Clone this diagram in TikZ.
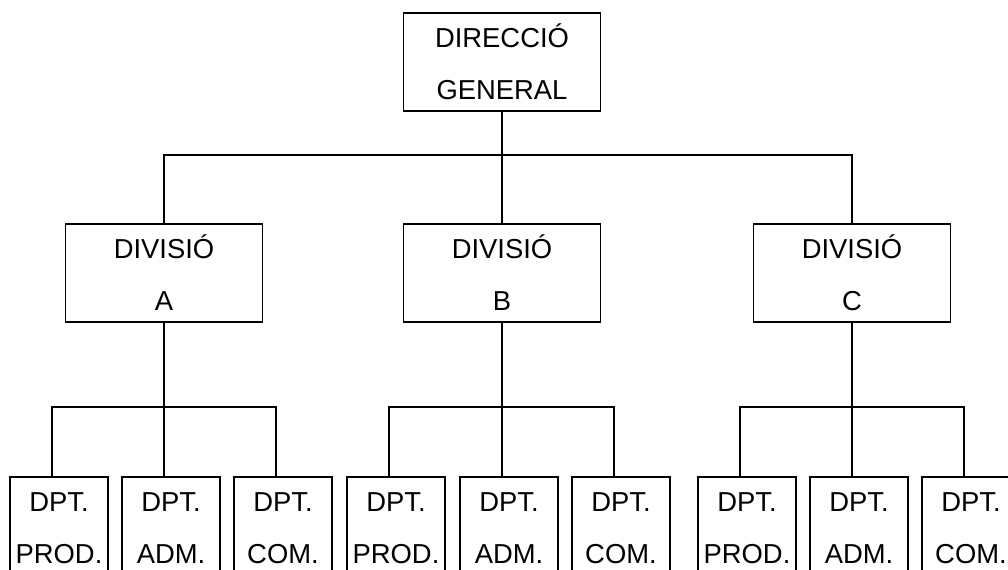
\documentclass[tikz,border=0pt]{standalone}
\usepackage{fontspec}
\setmainfont{Liberation Sans}

\begin{document}
\begin{tikzpicture}[
    x=1bp,y=-1bp,
    box/.style={draw,line width=1.8bp,inner sep=0pt,align=center,
      font=\fontsize{27.5}{52}\selectfont,minimum width=197bp,minimum height=98bp},
    dept/.style={box,minimum width=98bp,minimum height=102bp},
    link/.style={line width=1.8bp}
  ]
    \useasboundingbox (0,0) rectangle (1008,570);
    \clip (0,0) rectangle (1008,570);
    % top
    \node[box] (dir) at (502,62) {DIRECCIÓ\\GENERAL};
    % divisions
    \node[box] (divA) at (164,273) {DIVISIÓ\\A};
    \node[box] (divB) at (502,273) {DIVISIÓ\\B};
    \node[box] (divC) at (852,273) {DIVISIÓ\\C};
    % departments
    \node[dept] (prodA) at (59,528) {DPT.\\PROD.};
    \node[dept] (admA) at (171,528) {DPT.\\ADM.};
    \node[dept] (comA) at (283,528) {DPT.\\COM.};
    \node[dept] (prodB) at (396,528) {DPT.\\PROD.};
    \node[dept] (admB) at (509,528) {DPT.\\ADM.};
    \node[dept] (comB) at (621,528) {DPT.\\COM.};
    \node[dept] (prodC) at (747,528) {DPT.\\PROD.};
    \node[dept] (admC) at (859,528) {DPT.\\ADM.};
    \node[dept] (comC) at (971,528) {DPT.\\COM.};
    % bus bars
    \coordinate (busTop) at (502,155);
    \coordinate (busA) at (164,407);
    \coordinate (busB) at (502,407);
    \coordinate (busC) at (852,407);
    \draw[link] (dir) -- (busTop);
    \draw[link] (divA) |- (busTop) -| (divC);
    \draw[link] (busTop) -- (divB);
    \draw[link] (divA) -- (busA);
    \draw[link] ([xshift=-7pt]prodA.north) |- (busA) -| ([xshift=-7pt]comA.north);
    \draw[link] (busA) -- ([xshift=-7pt]admA.north);
    \draw[link] (divB) -- (busB);
    \draw[link] ([xshift=-7pt]prodB.north) |- (busB) -| ([xshift=-7pt]comB.north);
    \draw[link] (busB) -- ([xshift=-7pt]admB.north);
    \draw[link] (divC) -- (busC);
    \draw[link] ([xshift=-7pt]prodC.north) |- (busC) -| ([xshift=-7pt]comC.north);
    \draw[link] (busC) -- ([xshift=-7pt]admC.north);
  \end{tikzpicture}
\end{document}
